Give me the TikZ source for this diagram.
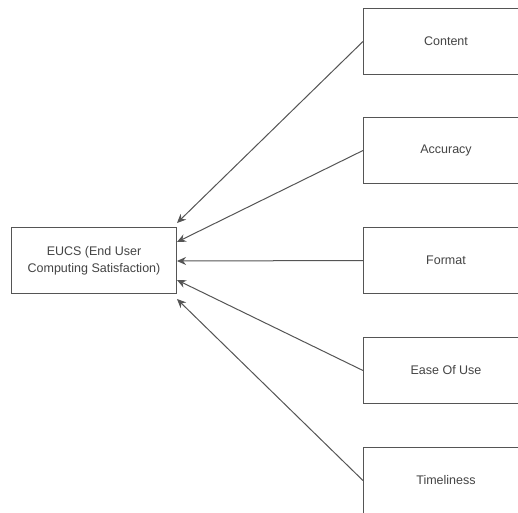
\documentclass[tikz,border=0pt]{standalone}
\usepackage{fontspec}
\setmainfont{Liberation Sans}
\usetikzlibrary{arrows.meta}
\definecolor{linec}{HTML}{555555}
\definecolor{textc}{HTML}{444444}
\begin{document}
\begin{tikzpicture}[x=1pt,y=-1pt,
  box/.style={draw=linec, line width=1.1pt, fill=white, rectangle, minimum width=165pt, minimum height=66pt,
    inner sep=0pt, align=center, text=textc, font=\fontsize{12.5}{17}\selectfont},
  conn/.style={draw=linec, line width=1pt, -{Stealth[length=9pt,width=8pt]}}]
\useasboundingbox (0,0) rectangle (518,512);
\fill[white] (0,0) rectangle (518,512);
\node[box] (eucs) at (94,260.5) {EUCS (End User\\Computing Satisfaction)};
\node[box] (content) at (446,41.5) {Content};
\node[box] (accuracy) at (446,150.5) {Accuracy};
\node[box] (format) at (446,260.5) {Format};
\node[box] (ease) at (446,370.5) {Ease Of Use};
\node[box] (time) at (446,480.5) {Timeliness};
\coordinate (t1) at (177,223);
\coordinate (t2) at (177,242);
\coordinate (t3) at (177,261);
\coordinate (t4) at (177,280);
\coordinate (t5) at (177,299);
\draw[conn] (content.west) -- (t1);
\draw[conn] (accuracy.west) -- (t2);
\draw[conn] (format.west) -- (t3);
\draw[conn] (ease.west) -- (t4);
\draw[conn] (time.west) -- (t5);
\end{tikzpicture}
\end{document}
